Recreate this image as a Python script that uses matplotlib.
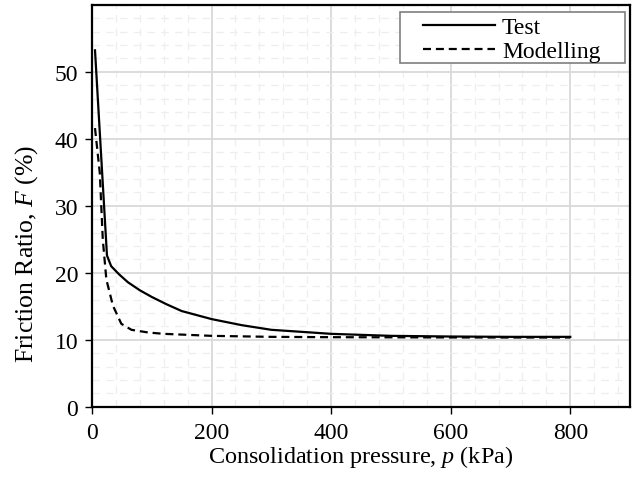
import matplotlib
matplotlib.use("Agg")
import matplotlib.pyplot as plt
from matplotlib.patches import Rectangle
from matplotlib.ticker import MultipleLocator

plt.rcParams["font.family"] = ["Liberation Serif", "DejaVu Serif"]
plt.rcParams["mathtext.fontset"] = "custom"
plt.rcParams["mathtext.rm"] = "Liberation Serif"
plt.rcParams["mathtext.it"] = "Liberation Serif:italic"

# test data
test_p = [5, 25, 32, 45, 60, 80, 100, 125, 150, 200, 250, 300, 400, 500, 600, 700, 800]
test_f = [53.2, 22.6, 21.0, 19.8, 18.6, 17.4, 16.4, 15.3, 14.3, 13.1, 12.2, 11.5, 10.9, 10.6, 10.5, 10.45, 10.45]

# modelling data
model_p = [5, 13, 18, 24, 35, 49, 66, 94, 120, 200, 300, 400, 500, 600, 700, 800]
model_f = [41.6, 34.9, 25.0, 19.0, 15.1, 12.4, 11.5, 11.1, 10.9, 10.6, 10.45, 10.4, 10.38, 10.36, 10.35, 10.35]

fig = plt.figure(figsize=(6.39, 4.81), dpi=100)
ax = fig.add_axes([0.144, 0.152, 0.842, 0.836])

ax.plot(test_p, test_f, color="black", linewidth=1.6, label="Test", zorder=3)
ax.plot(model_p, model_f, color="black", linewidth=1.6, linestyle=(0, (3.6, 2.2)),
        label="Modelling", zorder=3)

ax.set_xlim(0, 900)
ax.set_ylim(0, 60)
ax.set_xticks([0, 200, 400, 600, 800])
ax.set_yticks([0, 10, 20, 30, 40, 50])
ax.xaxis.set_minor_locator(MultipleLocator(40))
ax.yaxis.set_minor_locator(MultipleLocator(2))

ax.grid(which="major", color="#d9d9d9", linewidth=1.3, zorder=1)
ax.grid(which="minor", color="#eeeeee", linewidth=0.9, linestyle=(0, (6, 5)), zorder=0)
ax.set_axisbelow(True)

for s in ax.spines.values():
    s.set_linewidth(1.6)
    s.set_color("black")

ax.tick_params(which="major", direction="out", length=5, width=1, labelsize=17)
ax.tick_params(axis="x", pad=6)
ax.tick_params(axis="y", pad=5)
ax.tick_params(which="minor", length=0)

ax.set_xlabel(r"Consolidation pressure, $p$ (kPa)", fontsize=17.4, labelpad=0)
fig.text(0.041, 0.472, r"Friction Ratio, $F$ $\mathit{(\%)}$", fontsize=18.5,
         rotation=90, ha="center", va="center")

# legend box (excel style, wide padding)
ax.add_patch(Rectangle((0.5725, 0.856), 0.418, 0.127, transform=ax.transAxes,
                       facecolor="white", edgecolor="#7f7f7f", linewidth=1.2, zorder=4))
leg = ax.legend(loc="center left", bbox_to_anchor=(0.615, 0.914), fontsize=17,
                frameon=False, handlelength=3.05, handletextpad=0.3,
                labelspacing=0.08, borderpad=0, borderaxespad=0)
leg.set_zorder(5)

fig.savefig("out.png", dpi=100)
